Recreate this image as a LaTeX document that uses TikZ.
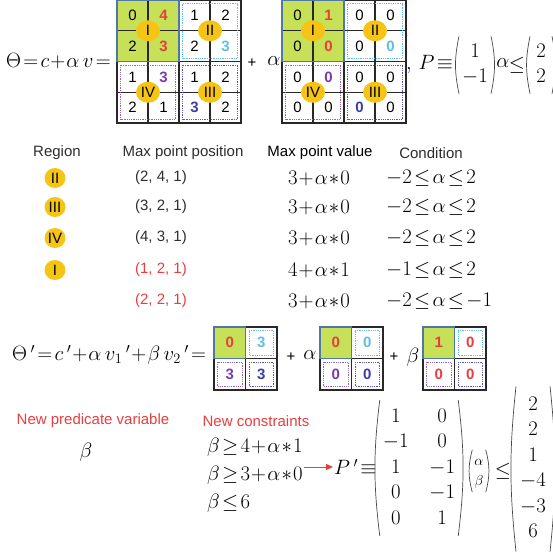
\documentclass[tikz,border=0pt]{standalone}
\usepackage{amsmath}
\usepackage{fontspec}
\setmainfont{Liberation Sans}
\usetikzlibrary{shapes.geometric,arrows.meta,calc}
\definecolor{cellgreen}{RGB}{198,224,88}
\definecolor{edgeblue}{RGB}{80,120,165}
\definecolor{gridgray}{RGB}{40,40,40}
\definecolor{regiongold}{RGB}{246,196,20}
\definecolor{tred}{RGB}{232,62,62}
\definecolor{lblue}{RGB}{95,190,228}
\definecolor{tpurple}{RGB}{118,60,178}
\definecolor{dblue}{RGB}{58,62,168}
\definecolor{textgray}{RGB}{45,45,45}
\newcommand\numfont{\fontsize{15}{18}\selectfont}
\newcommand\mathsz{\fontsize{20.5}{25.5}\selectfont}
\newcommand\nred[1]{\textbf{\textcolor{tred}{#1}}}
\newcommand\nlb[1]{\textbf{\textcolor{lblue}{#1}}}
\newcommand\npu[1]{\textbf{\textcolor{tpurple}{#1}}}
\newcommand\ndb[1]{\textbf{\textcolor{dblue}{#1}}}
\thickmuskip=2mu plus 1mu
\medmuskip=1mu
\tikzset{
  cell/.style={draw=gridgray, line width=1.1pt, minimum width=31pt, minimum height=30.75pt, inner sep=0pt, outer sep=0pt, font=\numfont},
  smallcell/.style={cell, minimum width=31.5pt, minimum height=31.5pt},
  region/.style={ellipse, fill=regiongold, minimum width=24pt, minimum height=21pt, inner sep=0pt, font=\numfont},
  dotbox/.style={draw=#1, densely dotted, line width=0.8pt},
  greenedge/.style={draw=edgeblue, line width=1.1pt},
  mathlbl/.style={font=\mathsz, inner sep=1pt},
  header/.style={font=\numfont, text=textgray},
  paren/.style={draw=gridgray!85, line width=0.7pt},
  redarrow/.style={draw=tred, line width=1pt, -{Triangle[length=7pt,width=6pt]}}
}
\begin{document}
\begin{tikzpicture}[x=1pt,y=-1pt]
\useasboundingbox (0,0) rectangle (553,552);

\fill[cellgreen] (117,0) rectangle (179,61.5);
\fill[cellgreen] (282,0) rectangle (344,61.5);
\foreach \g/\gx/\vals in {ga/132.5/{0,\nred{4},1,2, 2,\nred{3},2,\nlb{3}, 1,\npu{3},1,2, 2,1,\ndb{3},2},
                          gb/297.5/{0,\nred{1},0,0, 0,\nred{0},0,\nlb{0}, 0,\npu{0},0,0, 0,0,\ndb{0},0}}{
  \foreach \v [count=\k from 0] in \vals {
    \pgfmathtruncatemacro\rr{div(\k,4)}
    \pgfmathtruncatemacro\cc{mod(\k,4)}
    \node[cell] (\g-\rr\cc) at ({\gx+31*\cc},{15.375+30.75*\rr}) {\v};
  }
  \draw[greenedge] (\g-00.north west) rectangle (\g-11.south east);
  \draw[dotbox=lblue] ($(\g-02.north west)+(3.5,3.5)$) rectangle ($(\g-13.south east)-(3.5,3.5)$);
  \draw[dotbox=tpurple!80] ($(\g-20.north west)+(3.5,3.5)$) rectangle ($(\g-31.south east)-(3.5,3.5)$);
  \draw[dotbox=dblue!85] ($(\g-22.north west)+(3.5,3.5)$) rectangle ($(\g-33.south east)-(3.5,3.5)$);
  \node[region] (\g-I) at (\g-00.south east) {I};
  \node[region] (\g-II) at (\g-02.south east) {II};
  \node[region] (\g-IV) at (\g-20.south east) {IV};
  \node[region] (\g-III) at (\g-22.south east) {III};
}

\node[mathlbl, anchor=east] (theta) at (112,61) {$\Theta=c+\alpha\,v=$};
\node[font=\numfont] (plus1) at (252,63) {+};
\node[mathlbl] (alpha1) at (274,61) {$\alpha$};
\node[mathlbl, anchor=west] (pdef) at (405,64) {$,\,P\equiv$};
\node[mathlbl, inner xsep=3pt, inner ysep=3pt] (pvec) at (475,65) {$\begin{matrix}1\\-1\end{matrix}$};
\draw[paren] (pvec.north west) to[bend right=12] (pvec.south west);
\draw[paren] (pvec.north east) to[bend left=12] (pvec.south east);
\node[mathlbl] (alpha3) at (503,63) {$\alpha$};
\node[mathlbl] (le1) at (517,65) {$\le$};
\node[mathlbl, inner xsep=6pt, inner ysep=3pt] (bvec) at (541,65) {$\begin{matrix}2\\2\end{matrix}$};
\draw[paren] (bvec.north west) to[bend right=12] (bvec.south west);
\draw[paren] (bvec.north east) to[bend left=12] (bvec.south east);

\node[header] (h-reg) at (57,153) {Region};
\node[header] (h-pos) at (183,153) {Max point position};
\node[header, text=black] (h-val) at (320,153) {Max point value};
\node[header] (h-cond) at (431,153) {Condition};
\foreach \y/\reg [count=\n] in {178/II,207/III,238/IV,270/I}
  \node[region, minimum width=21pt, minimum height=20pt] (reg-\n) at (55,\y) {\reg};
\foreach \y/\pos/\val/\cond [count=\n] in {
  178/{(2, 4, 1)}/{3+\alpha\ast0}/{-2\le\alpha\le2},
  207/{(3, 2, 1)}/{3+\alpha\ast0}/{-2\le\alpha\le2},
  238/{(4, 3, 1)}/{3+\alpha\ast0}/{-2\le\alpha\le2},
  270/{\textcolor{tred}{(1, 2, 1)}}/{4+\alpha\ast1}/{-1\le\alpha\le2},
  301/{\textcolor{tred}{(2, 2, 1)}}/{3+\alpha\ast0}/{-2\le\alpha\le-1}}{
  \node[font=\numfont, text=textgray] (pos-\n) at (161,\y) {\pos};
  \node[mathlbl] (val-\n) at (319,\y) {$\val$};
  \node[mathlbl, anchor=west] (cond-\n) at (385,\y) {$\cond$};
}

\node[mathlbl, anchor=west] (thetap) at (11,355) {$\Theta\,'=c\,'+\alpha\,v_1\,'+\beta\,v_2\,'=$};
\foreach \g/\gx/\va/\vb/\vc/\vd in {sa/214/\nred{0}/\nlb{3}/\npu{3}/\ndb{3},
                                    sb/320/\nred{0}/\nlb{0}/\npu{0}/\ndb{0},
                                    sc/423/\nred{1}/\nred{0}/\nred{0}/\nred{0}}{
  \node[smallcell, fill=cellgreen] (\g-00) at ({\gx+15.75},342.75) {\va};
  \node[smallcell] (\g-01) at ({\gx+47.25},342.75) {\vb};
  \node[smallcell] (\g-10) at ({\gx+15.75},374.25) {\vc};
  \node[smallcell] (\g-11) at ({\gx+47.25},374.25) {\vd};
  \draw[greenedge] (\g-00.north west) rectangle (\g-00.south east);
  \draw[dotbox=lblue] ($(\g-01.north west)+(3.5,3.5)$) rectangle ($(\g-01.south east)-(3.5,3.5)$);
  \draw[dotbox=tpurple!80] ($(\g-10.north west)+(3.5,3.5)$) rectangle ($(\g-10.south east)-(3.5,3.5)$);
  \draw[dotbox=dblue!85] ($(\g-11.north west)+(3.5,3.5)$) rectangle ($(\g-11.south east)-(3.5,3.5)$);
}
\node[font=\numfont] (plus2) at (291,357) {+};
\node[mathlbl] (alpha2) at (310,355) {$\alpha$};
\node[font=\numfont] (plus3) at (394,357) {+};
\node[mathlbl] (beta2) at (413,357) {$\beta$};

\node[font=\numfont, text=tred] (newvar) at (93,421) {New predicate variable};
\node[mathlbl] (betavar) at (86,452) {$\beta$};
\node[font=\numfont, text=tred] (newcons) at (256,421) {New constraints};
\node[mathlbl, anchor=west] (c1) at (206,447) {$\beta\ge4+\alpha\ast1$};
\node[mathlbl, anchor=west] (c2) at (206,475) {$\beta\ge3+\alpha\ast0$};
\node[mathlbl, anchor=west] (c3) at (206,503) {$\beta\le6$};
\node[mathlbl, anchor=west] (pprime) at (333,467) {$P\,'\equiv$};
\node[mathlbl, inner xsep=3pt, inner ysep=4pt] (pmat) at (419,468) {\setlength\arraycolsep{10.4pt}$\begin{matrix}1&0\\-1&0\\1&-1\\0&-1\\0&1\end{matrix}$};
\draw[paren] (pmat.north west) to[bend right=7] (pmat.south west);
\draw[paren] (pmat.north east) to[bend left=7] (pmat.south east);
\node[font=\fontsize{15}{20}\selectfont, inner xsep=2pt, inner ysep=1pt] (abvec) at (479,471) {$\begin{matrix}\alpha\\\beta\end{matrix}$};
\draw[paren] (abvec.north west) to[bend right=15] (abvec.south west);
\draw[paren] (abvec.north east) to[bend left=15] (abvec.south east);
\node[mathlbl] (le2) at (503,471) {$\le$};
\node[mathlbl, inner xsep=4pt, inner ysep=6pt] (qvec) at (533,469) {$\begin{matrix}2\\2\\1\\-4\\-3\\6\end{matrix}$};
\draw[paren] (qvec.north west) to[bend right=6] (qvec.south west);
\draw[paren] (qvec.north east) to[bend left=6] (qvec.south east);
\draw[redarrow] (c2.east |- pprime.west) -- (pprime.west);
\end{tikzpicture}
\end{document}
